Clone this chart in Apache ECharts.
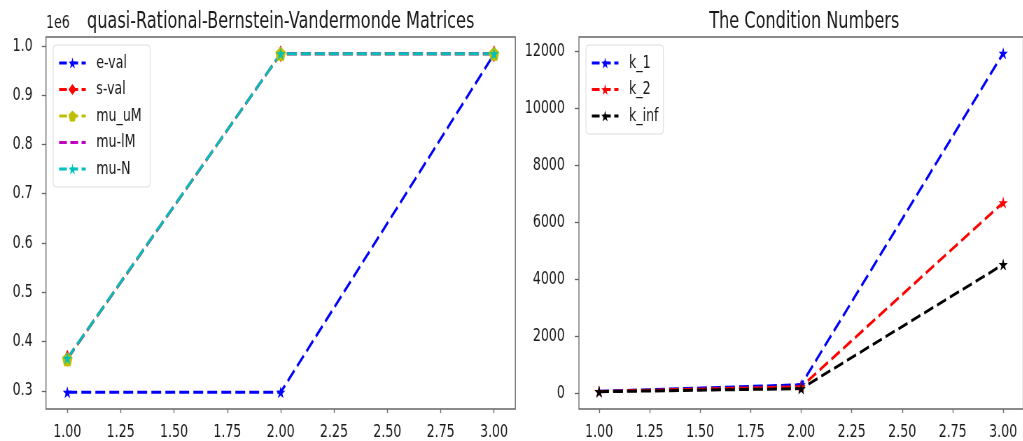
<!DOCTYPE html>
<html>
<head>
<meta charset="utf-8">
<title>quasi-Rational-Bernstein-Vandermonde Matrices</title>
<script src="https://cdn.jsdelivr.net/npm/echarts@6/dist/echarts.min.js"></script>
<style>
	html, body {margin: 0; padding: 0; overflow: hidden; background: #fff;}
	/* the reference is squeezed horizontally, so draw wide and squeeze */
	#main {width: 1462px; height: 441px; transform: scaleX(0.7); transform-origin: 0 0;}
</style>
</head>
<body>
<div id="main"></div>
<script>
var xValues = [1, 2, 3];
var xTicks = [1, 1.25, 1.5, 1.75, 2, 2.25, 2.5, 2.75, 3];

// left panel, values in units of 1e6
var eVal = [297000, 297000, 983000];
var sVal = [366000, 984000, 984000];
var muUM = [364000, 984000, 984000];
var muLM = [365000, 984000, 984000];
var muN = [366000, 984000, 984000];
var leftTicks = [300000, 400000, 500000, 600000, 700000, 800000, 900000, 1000000];

// right panel
var k1 = [70, 300, 11930];
var k2 = [65, 230, 6690];
var kInf = [55, 165, 4520];
var rightTicks = [0, 2000, 4000, 6000, 8000, 10000, 12000];

var STAR = 'path://M50,0 L61.17,34.63 L97.55,34.55 L68.07,55.87 L79.39,90.45 L50,69 L20.61,90.45 L31.93,55.87 L2.45,34.55 L38.83,34.63 Z';
var PENTAGON = 'path://M50,0 L97.55,34.55 L79.39,90.45 L20.61,90.45 L2.45,34.55 Z';
var DASH = [14, 6];
var FONT = 'DejaVu Sans';
var TXT = '#1a1a1a';
var SPINE = '#666';
var FS = 18;

function pairs(ys) {
	var out = [];
	for (var i = 0; i < xValues.length; i++) {
		out.push([xValues[i], ys[i]]);
	}
	return out;
}

function lineSeries(name, data, color, symbol, size, axisIdx) {
	var s = {
		name: name,
		type: 'line',
		xAxisIndex: axisIdx,
		yAxisIndex: axisIdx,
		data: pairs(data),
		symbol: symbol,
		symbolSize: size,
		itemStyle: {color: color},
		lineStyle: {color: color, width: 3, type: DASH},
		emphasis: {disabled: true}
	};
	if (size === 0) {
		// no marker: keep the legend icon a bare dashed line
		s.showSymbol = false;
		s.itemStyle.opacity = 0;
	}
	return s;
}

function xAxisCfg(gridIdx) {
	return {
		type: 'value',
		gridIndex: gridIdx,
		min: 0.9,
		max: 3.1,
		splitLine: {show: false},
		axisLine: {show: false, onZero: false},
		axisTick: {show: true, length: 4, customValues: xTicks, lineStyle: {color: SPINE, width: 1.3}},
		axisLabel: {
			customValues: xTicks, margin: 14, color: TXT, fontFamily: FONT, fontSize: FS,
			formatter: function (v) { return v.toFixed(2); }
		}
	};
}

function legendCfg(names, left, pad) {
	return {
		orient: 'vertical',
		left: left,
		top: 45,
		data: names,
		itemWidth: 38,
		itemHeight: 14,
		itemGap: 8.5,
		padding: pad,
		backgroundColor: 'rgba(255,255,255,0.8)',
		borderColor: '#dcdcdc',
		borderWidth: 1,
		borderRadius: 4,
		selectedMode: false,
		lineStyle: {type: [11, 5], width: 3},
		textStyle: {color: TXT, fontFamily: FONT, fontSize: FS, lineHeight: 18, padding: [0, 0, 0, 10]}
	};
}

var myChart = echarts.init(document.getElementById('main'));
var option = {
	animation: false,
	backgroundColor: '#fff',
	graphic: [
		{type: 'text', x: 401, y: 22, style: {text: 'quasi-Rational-Bernstein-Vandermonde Matrices', fill: TXT, font: '23px "DejaVu Sans"', textAlign: 'center', textVerticalAlign: 'middle'}},
		{type: 'text', x: 1149, y: 22, style: {text: 'The Condition Numbers', fill: TXT, font: '23px "DejaVu Sans"', textAlign: 'center', textVerticalAlign: 'middle'}}
	],
	legend: [
		legendCfg(['e-val', 's-val', 'mu_uM', 'mu-lM', 'mu-N'], 76, [9, 12, 9, 7]),
		legendCfg(['k_1', 'k_2', 'k_inf'], 837, [9, 7, 9, 7])
	],
	grid: [
		{left: 65.7, top: 37, width: 670.5, height: 372, show: true, borderColor: SPINE, borderWidth: 1.3, backgroundColor: '#fff'},
		{left: 827, top: 37, width: 645, height: 372, show: true, borderColor: SPINE, borderWidth: 1.3, backgroundColor: '#fff'}
	],
	xAxis: [xAxisCfg(0), xAxisCfg(1)],
	yAxis: [
		{
			type: 'value',
			gridIndex: 0,
			min: 263000,
			max: 1018000,
			name: '1e6',
			nameLocation: 'end',
			nameGap: 5,
			nameTextStyle: {color: TXT, fontFamily: FONT, fontSize: FS, align: 'left', verticalAlign: 'bottom'},
			splitLine: {show: false},
			axisLine: {show: false, onZero: false},
			axisTick: {show: true, length: 6, customValues: leftTicks, lineStyle: {color: SPINE, width: 1.3}},
			axisLabel: {
				customValues: leftTicks, margin: 19, color: TXT, fontFamily: FONT, fontSize: FS,
				formatter: function (v) { return (v / 1e6).toFixed(1); }
			}
		},
		{
			type: 'value',
			gridIndex: 1,
			min: -550,
			max: 12500,
			splitLine: {show: false},
			axisLine: {show: false, onZero: false},
			axisTick: {show: true, length: 6, customValues: rightTicks, lineStyle: {color: SPINE, width: 1.3}},
			axisLabel: {
				customValues: rightTicks, margin: 20, color: TXT, fontFamily: FONT, fontSize: FS,
				formatter: function (v) { return String(v); }
			}
		}
	],
	series: [
		lineSeries('e-val', eVal, '#0000ff', STAR, [13, 12], 0),
		lineSeries('s-val', sVal, '#ff0000', 'diamond', [11, 17], 0),
		lineSeries('mu_uM', muUM, '#bfbf00', PENTAGON, [15, 14], 0),
		lineSeries('mu-lM', muLM, '#bf00bf', 'circle', 0, 0),
		lineSeries('mu-N', muN, '#00bfbf', STAR, [13, 12], 0),
		lineSeries('k_1', k1, '#0000ff', STAR, [13, 12], 1),
		lineSeries('k_2', k2, '#ff0000', STAR, [13, 12], 1),
		lineSeries('k_inf', kInf, '#000000', STAR, [13, 12], 1)
	]
};
myChart.setOption(option, true);
</script>
</body>
</html>
